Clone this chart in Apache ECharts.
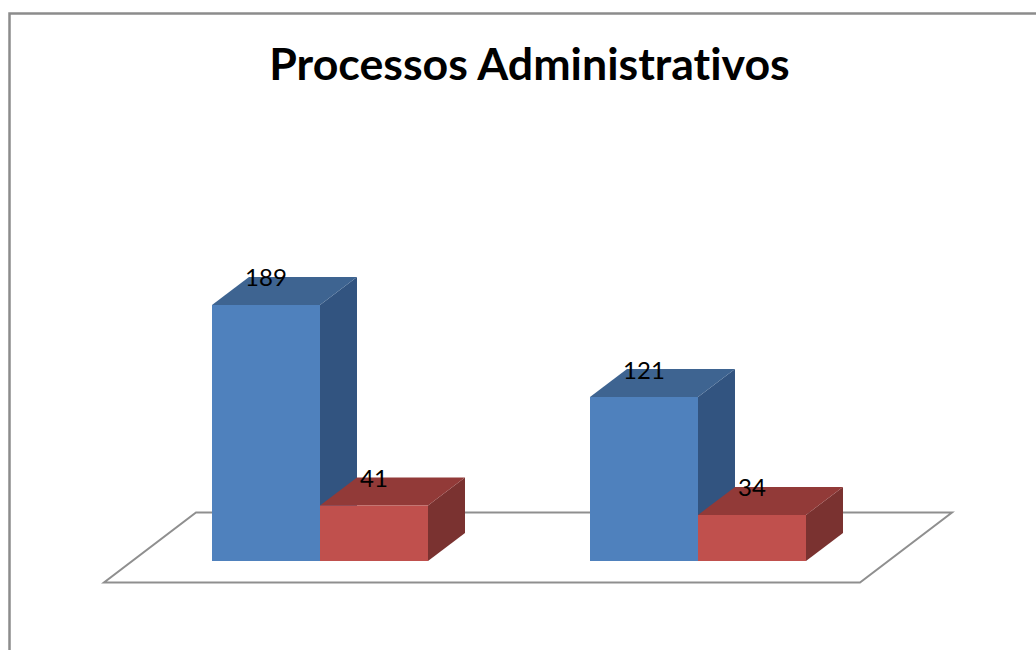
<!DOCTYPE html>
<html>
<head>
<meta charset="utf-8">
<style>
  html, body { margin: 0; padding: 0; background: #fff; }
  #chart { width: 1036px; height: 650px; }
  /* no "ti" ligature in the title */
  #chart text { font-variant-ligatures: none; }
</style>
<script src="https://cdn.jsdelivr.net/npm/echarts@6/dist/echarts.min.js"></script>
</head>
<body>
<div id="chart"></div>
<script>
const categories = ['1', '2']
const blueValues = [189, 121]
const redValues = [41, 34]

// 3D depth of the bars, in pixels
const depthX = 37
const depthY = 28

const blueColors = { front: '#4f81bd', top: '#3e6491', side: '#325480' }
const redColors = { front: '#c0504d', top: '#923a38', side: '#7a3230' }

// side: -1 = left of the category centre, 0 = right of it
function barRenderer(colors, side) {
  return function (params, api) {
    const bottom = api.coord([api.value(0), 0])
    const top = api.coord([api.value(0), api.value(1)])
    // two bars with a 150% gap
    const barWidth = api.size([1, 0])[0] * 2 / 7
    const x1 = bottom[0] + side * barWidth
    const x2 = x1 + barWidth
    const y1 = top[1]
    const y2 = bottom[1]
    return {
      type: 'group',
      children: [
        {
          type: 'polygon',
          shape: { points: [[x2, y1], [x2 + depthX, y1 - depthY], [x2 + depthX, y2 - depthY], [x2, y2]] },
          style: { fill: colors.side }
        },
        {
          type: 'polygon',
          shape: { points: [[x1, y1], [x1 + depthX, y1 - depthY], [x2 + depthX, y1 - depthY], [x2, y1]] },
          style: { fill: colors.top }
        },
        {
          type: 'rect',
          shape: { x: x1, y: y1, width: barWidth, height: y2 - y1 },
          style: { fill: colors.front }
        },
        {
          type: 'text',
          z2: 100,
          style: {
            x: x1 + barWidth / 2,
            y: y1 - 28,
            text: String(api.value(1)),
            fill: '#000',
            fontFamily: 'Lato',
            fontSize: 24,
            align: 'center',
            verticalAlign: 'middle'
          }
        }
      ]
    }
  }
}

const chart = echarts.init(document.getElementById('chart'), null, { renderer: 'svg' })
chart.setOption({
  animation: false,
  backgroundColor: '#fff',
  title: {
    text: 'Processos Administrativos',
    left: 524.5,
    top: 35,
    textAlign: 'center',
    textStyle: { fontFamily: 'Lato', fontWeight: 'bold', fontSize: 44.7, color: '#000' }
  },
  grid: { left: 131, width: 756, top: 290, height: 271 },
  xAxis: { type: 'category', data: categories, show: false },
  yAxis: { type: 'value', min: 0, max: 200, show: false },
  graphic: [
    {
      type: 'rect',
      silent: true,
      shape: { x: 9.5, y: 13.5, width: 1100, height: 700 },
      style: { fill: '#fff', stroke: '#8c8c8c', lineWidth: 2.5 }
    },
    {
      type: 'polygon',
      silent: true,
      shape: { points: [[196, 512.5], [952, 512.5], [860, 582.5], [104, 582.5]] },
      style: { fill: '#fff', stroke: '#8f8f8f', lineWidth: 2 }
    }
  ],
  series: [
    {
      type: 'custom',
      renderItem: barRenderer(blueColors, -1),
      encode: { x: 0, y: 1 },
      data: blueValues.map((v, i) => [i, v])
    },
    {
      type: 'custom',
      renderItem: barRenderer(redColors, 0),
      encode: { x: 0, y: 1 },
      data: redValues.map((v, i) => [i, v])
    }
  ]
})
</script>
</body>
</html>
